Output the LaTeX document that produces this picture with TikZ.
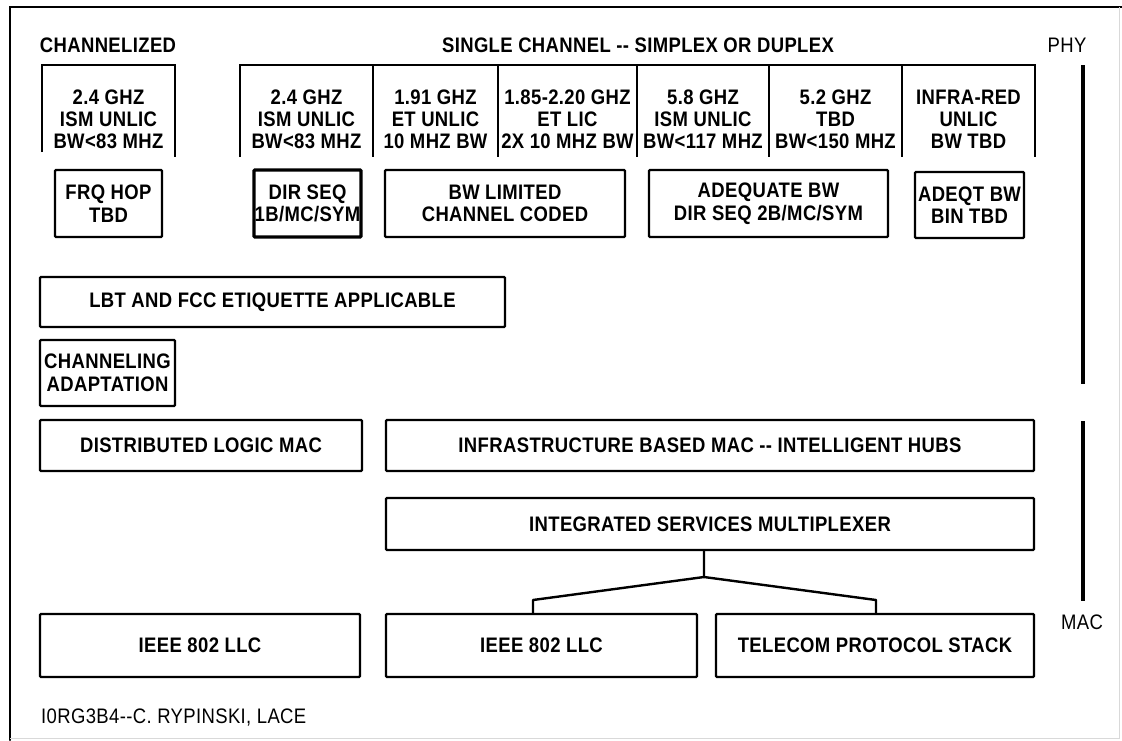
\documentclass[tikz,border=0pt]{standalone}
\usepackage{fontspec}
\setmainfont{Liberation Sans}[LetterSpace=1.8,FakeStretch=0.88]
\begin{document}
\begin{tikzpicture}[x=1pt,y=-1pt,
  frame/.style={line width=2pt,line cap=round},
  boxed/.style={draw,line width=2.4pt,rounded corners=1pt,inner sep=0pt,
    align=center,font=\bfseries\fontsize{21}{22.5}\selectfont},
  heavybox/.style={boxed,line width=3.2pt},
  coltext/.style={align=center,inner sep=0pt,font=\bfseries\fontsize{21}{22}\selectfont},
  title/.style={inner sep=0pt,font=\bfseries\fontsize{21}{22}\selectfont},
  thin/.style={inner sep=0pt,font=\fontsize{21}{22}\selectfont},
  bracket/.style={line width=2.4pt},
  layerbar/.style={line width=4pt},
  conn/.style={line width=2.4pt,line join=round}]
\useasboundingbox (0,0) rectangle (1122,740);

% page frame
\draw[frame] (10,740) -- (10,7) -- (1122,7);
\draw[black!15,line width=1pt] (1119,7) -- (1119,738) -- (10,738);

% headings
\node[title] (hchan) at (108,45) {CHANNELIZED};
\node[title] (hsingle) at (638,45) {SINGLE CHANNEL -{}- SIMPLEX OR DUPLEX};
\node[thin] (hphy) at (1067,45) {PHY};

% band brackets
\draw[bracket] (42,152) -- (42,65) -- (175,65) -- (175,157);
\draw[bracket] (240,157) -- (240,65) -- (1035,65) -- (1035,157);
\foreach \xd in {373,498,637,769,902}
  \draw[bracket] (\xd,65) -- (\xd,157);

% band descriptions
\node[coltext] (c1) at (108.5,119) {2.4 GHZ\\ISM UNLIC\\BW<83 MHZ};
\node[coltext] (c2) at (306.5,119) {2.4 GHZ\\ISM UNLIC\\BW<83 MHZ};
\node[coltext] (c3) at (435.5,119) {1.91 GHZ\\ET UNLIC\\10 MHZ BW};
\node[coltext] (c4) at (567.5,119) {1.85-2.20 GHZ\\ET LIC\\2X 10 MHZ BW};
\node[coltext] (c5) at (703,119) {5.8 GHZ\\ISM UNLIC\\BW<117 MHZ};
\node[coltext] (c6) at (835.5,119) {5.2 GHZ\\TBD\\BW<150 MHZ};
\node[coltext] (c7) at (968.5,119) {INFRA-RED\\UNLIC\\BW TBD};

% modulation boxes
\node[boxed,minimum width=107pt,minimum height=67pt] (frq) at (108.5,203.5) {FRQ HOP\\TBD};
\node[heavybox,minimum width=107pt,minimum height=67pt] (dsq) at (307.5,203.5) {DIR SEQ\\1B/MC/SYM};
\node[boxed,minimum width=240pt,minimum height=67pt] (bwl) at (505,203.5) {BW LIMITED\\CHANNEL CODED};
\node[boxed,minimum width=239pt,minimum height=67pt] (adq) at (768.5,203.5) {ADEQUATE BW\\DIR SEQ 2B/MC/SYM};
\node[boxed,minimum width=109pt,minimum height=66pt] (adqt) at (969.5,205) {ADEQT BW\\BIN TBD};

% etiquette and adaptation
\node[boxed,minimum width=465pt,minimum height=50pt] (lbt) at (272.5,302) {LBT AND FCC ETIQUETTE APPLICABLE};
\node[boxed,minimum width=135pt,minimum height=66pt] (chad) at (107.5,373) {CHANNELING\\ADAPTATION};

% MAC layer
\node[boxed,minimum width=322pt,minimum height=51pt] (dlm) at (201,445.5) {DISTRIBUTED LOGIC MAC};
\node[boxed,minimum width=648pt,minimum height=51pt] (ibm) at (710,445.5) {INFRASTRUCTURE BASED MAC -{}- INTELLIGENT HUBS};
\node[boxed,minimum width=648pt,minimum height=52pt] (isms) at (710,524) {INTEGRATED SERVICES MULTIPLEXER};

% link layer
\node[boxed,minimum width=320pt,minimum height=63pt] (llc1) at (200,645.5) {IEEE 802 LLC};
\node[boxed,minimum width=311pt,minimum height=63pt] (llc2) at (541.5,645.5) {IEEE 802 LLC};
\node[boxed,minimum width=318pt,minimum height=63pt] (tele) at (875,645.5) {TELECOM PROTOCOL STACK};

% multiplexer fan-out
\coordinate (j) at (704,577);
\coordinate (jl) at (533,600);
\coordinate (jr) at (876,600);
\draw[conn] (isms.south -| j) -- (j) -- (jl) -- (jl |- llc2.north);
\draw[conn] (j) -- (jr) -- (jr |- tele.north);

% layer bars
\draw[layerbar] (1083,65) -- (1083,384);
\draw[layerbar] (1083,421) -- (1083,601);
\node[thin] (hmac) at (1082,622) {MAC};

% document tag
\node[thin,anchor=west] (tag) at (41,717) {I0RG3B4-{}-C. RYPINSKI, LACE};
\end{tikzpicture}
\end{document}
